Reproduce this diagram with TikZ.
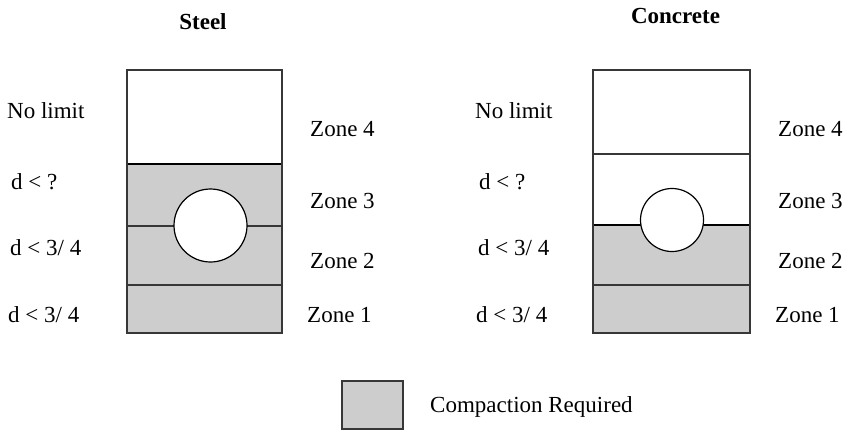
\documentclass[tikz,border=0pt]{standalone}
\usepackage{fontspec}
\setmainfont{Liberation Serif}
\definecolor{fillgray}{RGB}{205,205,205}
\definecolor{edgegray}{RGB}{55,55,55}
\begin{document}
\begin{tikzpicture}[x=1pt,y=-1pt,
  lbl/.style={font=\fontsize{23}{27}\selectfont, anchor=base west, inner sep=0pt},
  ttl/.style={font=\fontsize{23}{27}\selectfont\bfseries, anchor=base, inner sep=0pt},
  boxedge/.style={draw=edgegray, line width=1.3pt},
  thickline/.style={draw=black, line width=2.4pt},
  thinline/.style={draw=edgegray, line width=1.3pt},
  hole/.style={draw=black, fill=white, line width=1.2pt}]
\useasboundingbox (0,0) rectangle (850,431);

% Steel
\fill[fillgray] (127,164) rectangle (282,333);
\draw[thinline] (127,226) -- (282,226);
\draw[thinline] (127,285) -- (282,285);
\draw[thickline] (127,164) -- (282,164);
\draw[hole] (210.5,225.5) circle[radius=36.5pt];
\draw[boxedge] (127,70) rectangle (282,333);

% Concrete
\fill[fillgray] (593,225) rectangle (750,333);
\draw[thinline] (593,154) -- (750,154);
\draw[thinline] (593,285) -- (750,285);
\draw[thickline] (593,225) -- (750,225);
\draw[hole] (672,220) circle[radius=31.5pt];
\draw[boxedge] (593,70) rectangle (750,333);

% Titles
\node[ttl] (tsteel) at (203,29) {Steel};
\node[ttl] (tconc) at (675.5,23) {Concrete};

% Steel labels
\node[lbl] (sl4) at (7,118) {No limit};
\node[lbl] (sl3) at (11,189) {d < ?};
\node[lbl] (sl2) at (10,255) {d < 3/ 4};
\node[lbl] (sl1) at (8,322) {d < 3/ 4};
\node[lbl] (sz4) at (310,136) {Zone 4};
\node[lbl] (sz3) at (310,208) {Zone 3};
\node[lbl] (sz2) at (310,268) {Zone 2};
\node[lbl] (sz1) at (307,322) {Zone 1};

% Concrete labels
\node[lbl] (cl4) at (475,118) {No limit};
\node[lbl] (cl3) at (479,189) {d < ?};
\node[lbl] (cl2) at (478,255) {d < 3/ 4};
\node[lbl] (cl1) at (476,322) {d < 3/ 4};
\node[lbl] (cz4) at (778,136) {Zone 4};
\node[lbl] (cz3) at (778,208) {Zone 3};
\node[lbl] (cz2) at (778,268) {Zone 2};
\node[lbl] (cz1) at (775,322) {Zone 1};

% Legend
\draw[fill=fillgray, draw=edgegray, line width=1.5pt] (342,381) rectangle (403,429);
\node[lbl] (leg) at (430,412) {Compaction Required};
\end{tikzpicture}
\end{document}
